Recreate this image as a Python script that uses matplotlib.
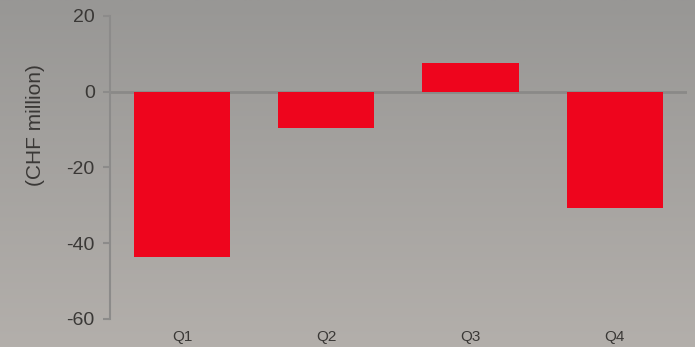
import numpy as np
import matplotlib
matplotlib.use("Agg")
import matplotlib.pyplot as plt
from matplotlib.colors import LinearSegmentedColormap

quarters = ["Q1", "Q2", "Q3", "Q4"]
values = [-43.6, -9.6, 7.6, -30.8]
y_ticks = [-60, -40, -20, 0, 20]

plt.rcParams["font.family"] = ["Liberation Sans", "DejaVu Sans"]

fig = plt.figure(figsize=(6.95, 3.47), dpi=100)

# vertical grey gradient background
bg = fig.add_axes([0, 0, 1, 1], zorder=0)
cmap = LinearSegmentedColormap.from_list("bg", ["#b3afab", "#989795"])
grad = np.linspace(0, 1, 256).reshape(-1, 1)
bg.imshow(grad, aspect="auto", cmap=cmap, origin="lower", extent=[0, 1, 0, 1])
bg.set_axis_off()

ax = fig.add_axes([0.1583, 0.0807, 0.830, 0.8732], zorder=1)
ax.patch.set_alpha(0)

x = np.arange(len(quarters))
ax.bar(x, values, width=0.667, color="#ee051d", zorder=2)
ax.axhline(0, color="#8a8988", linewidth=2, zorder=1)

ax.set_xlim(-0.5, 3.5)
ax.set_ylim(-60, 20)
ax.set_yticks(y_ticks)
ax.set_yticklabels([str(v) for v in y_ticks], fontsize=14, color="#3a3836")
ax.set_xticks(x)
ax.set_xticklabels(quarters, fontsize=11, color="#3a3836")
ax.tick_params(axis="x", length=0, pad=8)
ax.tick_params(axis="y", length=5, width=1.5, color="#8c8b8a", pad=6)

for side in ("top", "right", "bottom"):
    ax.spines[side].set_visible(False)
ax.spines["left"].set_color("#8c8b8a")
ax.spines["left"].set_linewidth(1.5)

fig.text(0.051, 0.64, "(CHF million)", rotation=90, fontsize=15,
         color="#3a3836", ha="center", va="center")

fig.savefig("out.png", dpi=100)
